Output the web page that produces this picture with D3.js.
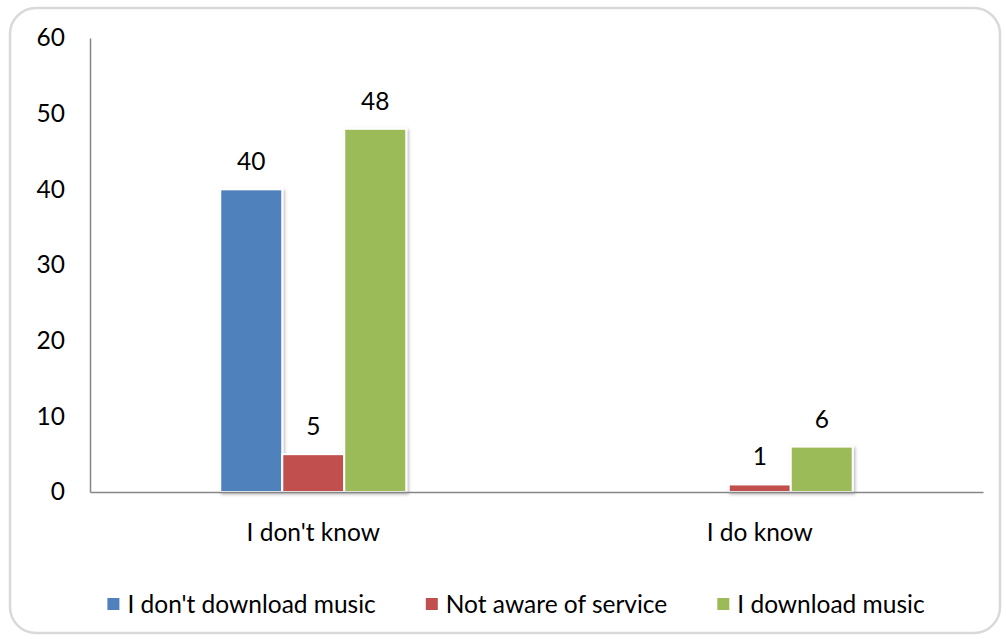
<!DOCTYPE html>
<html>
<head>
<meta charset="utf-8">
<script src="https://cdn.jsdelivr.net/npm/d3@7/dist/d3.min.js"></script>
<style>
  html, body { margin: 0; padding: 0; background: #fff; }
  svg { display: block; font-family: Lato, "Open Sans", sans-serif; }
</style>
</head>
<body>
<svg id="chart" width="1006" height="639"></svg>
<script>
// Survey responses grouped by awareness answer
const categories = ["I don't know", "I do know"];
const seriesNames = ["I don't download music", "Not aware of service", "I download music"];
const dontDownload = [40, null];
const notAware = [5, 1];
const doDownload = [48, 6];
const yTicks = [0, 10, 20, 30, 40, 50, 60];
const colors = ["#4F81BD", "#C0504D", "#9BBB59"];

const seriesValues = [dontDownload, notAware, doDownload];
const rows = [];
categories.forEach((c, ci) => {
  seriesNames.forEach((s, si) => {
    rows.push({ category: c, series: s, si, value: seriesValues[si][ci] });
  });
});

const svg = d3.select("#chart");
const fontSize = 24.5;

// Chart area frame
svg.append("rect")
  .attr("x", 10).attr("y", 8)
  .attr("width", 990).attr("height", 625)
  .attr("rx", 26).attr("ry", 26)
  .attr("fill", "#fff")
  .attr("stroke", "#d9d9d9")
  .attr("stroke-width", 2.5);

const defs = svg.append("defs");
const shadow = defs.append("filter").attr("id", "barShadow")
  .attr("x", "-20%").attr("y", "-20%").attr("width", "140%").attr("height", "140%");
shadow.append("feDropShadow")
  .attr("dx", 1.5).attr("dy", 1.5).attr("stdDeviation", 1.8)
  .attr("flood-color", "#000").attr("flood-opacity", 0.28);

const plot = { left: 90, right: 983, top: 38, bottom: 492 };

const x0 = d3.scaleBand().domain(categories).range([plot.left, plot.right]).padding(0);
const barW = 62;
const x1 = d3.scaleBand().domain(seriesNames).range([-1.5 * barW, 1.5 * barW]).padding(0);
const y = d3.scaleLinear().domain([0, 60]).range([plot.bottom, plot.top]);

// Bars (empty cells are not drawn)
const bars = rows.filter(d => d.value != null && d.value > 0);
const cx = d => x0(d.category) + x0.bandwidth() / 2 + x1(d.series);

svg.append("g").attr("filter", "url(#barShadow)")
  .selectAll("rect").data(bars).join("rect")
  .attr("x", d => cx(d))
  .attr("y", d => y(d.value))
  .attr("width", x1.bandwidth())
  .attr("height", d => y(0) - y(d.value))
  .attr("fill", d => colors[d.si])
  .attr("stroke", "#fff")
  .attr("stroke-width", 2);

// Value labels
svg.append("g").selectAll("text").data(bars).join("text")
  .attr("x", d => cx(d) + x1.bandwidth() / 2)
  .attr("y", d => y(d.value) - 19)
  .attr("text-anchor", "middle")
  .attr("font-size", fontSize)
  .attr("fill", "#000")
  .text(d => d.value);

// Y axis
const yAxis = svg.append("g")
  .attr("transform", `translate(${plot.left},0)`)
  .call(d3.axisLeft(y).tickValues(yTicks).tickSize(0).tickPadding(25));
yAxis.select(".domain").attr("stroke", "#868686").attr("stroke-width", 1.5);
yAxis.selectAll("text").attr("font-size", fontSize).attr("fill", "#000")
  .attr("font-family", "Lato, 'Open Sans', sans-serif");

// X axis
const xAxis = svg.append("g")
  .attr("transform", `translate(0,${plot.bottom})`)
  .call(d3.axisBottom(x0).tickSize(0).tickSizeOuter(0).tickPadding(32));
xAxis.select(".domain").attr("stroke", "#868686").attr("stroke-width", 1.5);
xAxis.selectAll("text").attr("font-size", fontSize).attr("fill", "#000")
  .attr("font-family", "Lato, 'Open Sans', sans-serif");

// Legend
const legend = svg.append("g");
const items = legend.selectAll("g").data(seriesNames).join("g");
items.append("rect")
  .attr("width", 12).attr("height", 12)
  .attr("y", -6)
  .attr("fill", (d, i) => colors[i]);
items.append("text")
  .attr("x", 20).attr("dy", "0.35em")
  .attr("font-size", fontSize)
  .attr("fill", "#000")
  .text(d => d);
const widths = [];
items.each(function () {
  const w = 20 + d3.select(this).select("text").node().getComputedTextLength();
  widths.push(w);
});
const gap = 50;
const total = d3.sum(widths) + gap * (widths.length - 1);
let start = 516 - total / 2;
items.attr("transform", (d, i) => {
  const t = `translate(${start},604)`;
  start += widths[i] + gap;
  return t;
});
</script>
</body>
</html>
